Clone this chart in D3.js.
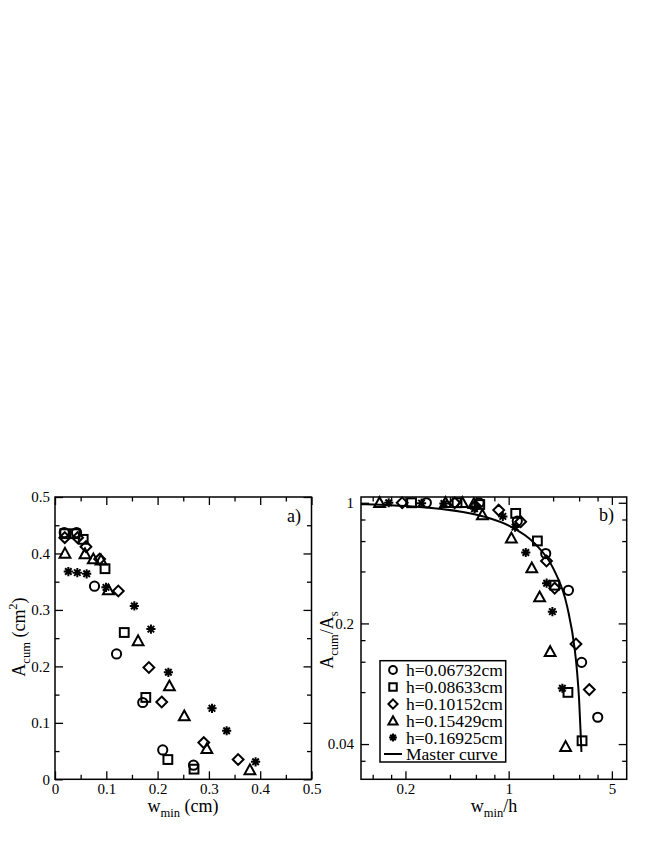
<!DOCTYPE html>
<html><head><meta charset="utf-8">
<script src="https://cdn.jsdelivr.net/npm/d3@7"></script>
<style>
body{margin:0;background:#fff}
svg{display:block}
text{font-family:"Liberation Serif","Times New Roman",serif;fill:#000}
</style>
</head><body>
<svg id="c" width="654" height="846"></svg>
<script>
// ---------- DATA ----------
const legendLabels = ["h=0.06732cm","h=0.08633cm","h=0.10152cm","h=0.15429cm","h=0.16925cm"];
const symbolTypes  = ["circle","square","diamond","triangle","star"];

// Panel a: w_min (cm) vs A_cum (cm^2)
const circA_w = [0.018, 0.042, 0.077, 0.120, 0.171, 0.210, 0.270];
const circA_A = [0.437, 0.437, 0.342, 0.222, 0.136, 0.052, 0.025];
const squA_w  = [0.019, 0.039, 0.055, 0.0975, 0.135, 0.177, 0.220, 0.271];
const squA_A  = [0.435, 0.435, 0.425, 0.373, 0.260, 0.145, 0.035, 0.018];
const diaA_w  = [0.019, 0.044, 0.0604, 0.087, 0.1234, 0.183, 0.208, 0.290, 0.357];
const diaA_A  = [0.428, 0.428, 0.412, 0.390, 0.3335, 0.198, 0.137, 0.065, 0.035];
const triA_w  = [0.0195, 0.0585, 0.0747, 0.0897, 0.104, 0.162, 0.223, 0.252, 0.296, 0.380];
const triA_A  = [0.400, 0.399, 0.390, 0.388, 0.335, 0.245, 0.165, 0.112, 0.054, 0.0165];
const starA_w = [0.026, 0.0435, 0.0617, 0.0994, 0.1546, 0.187, 0.221, 0.306, 0.3346, 0.391];
const starA_A = [0.368, 0.366, 0.364, 0.340, 0.307, 0.266, 0.1895, 0.1257, 0.086, 0.031];

// Panel b: w_min/h vs A_cum/A_s (log-log)
const circB_x = [0.277, 0.63, 1.144, 1.782, 2.54, 3.12, 4.01];
const circB_y = [1.0, 1.0, 0.783, 0.508, 0.311, 0.119, 0.0572];
const squB_x  = [0.220, 0.447, 0.637, 1.116, 1.565, 2.05, 2.52, 3.14];
const squB_y  = [1.0, 1.0, 0.977, 0.868, 0.601, 0.333, 0.0797, 0.0418];
const diaB_x  = [0.19, 0.431, 0.595, 0.856, 1.206, 1.803, 2.05, 2.857, 3.517];
const diaB_y  = [1.0, 1.0, 0.958, 0.907, 0.777, 0.46, 0.32, 0.152, 0.0827];
const triB_x  = [0.1336, 0.374, 0.486, 0.581, 0.664, 1.043, 1.434, 1.62, 1.91, 2.43];
const triB_y  = [1.0, 1.0, 1.0, 0.985, 0.849, 0.623, 0.418, 0.284, 0.137, 0.0386];
const starB_x = [0.154, 0.257, 0.3645, 0.587, 0.913, 1.105, 1.306, 1.808, 1.977, 2.31];
const starB_y = [1.0, 0.995, 0.99, 0.924, 0.834, 0.723, 0.515, 0.342, 0.234, 0.0842];
const masterB_x = [0.1, 0.15, 0.2, 0.3, 0.5, 0.7, 1.0, 1.5, 2.0, 2.5, 2.8, 2.9, 3.0, 3.07, 3.11];
const masterB_y = [0.982, 0.970, 0.959, 0.934, 0.882, 0.826, 0.738, 0.581, 0.418, 0.247, 0.142, 0.107, 0.072, 0.047, 0.036];

// Ticks
const aXMajor = [0, 0.1, 0.2, 0.3, 0.4, 0.5];
const aXLabels = ["0", "0.1", "0.2", "0.3", "0.4", "0.5"];
const aXMinor = [0.05, 0.15, 0.25, 0.35, 0.45];
const aYMajor = [0, 0.1, 0.2, 0.3, 0.4, 0.5];
const aYLabels = ["0", "0.1", "0.2", "0.3", "0.4", "0.5"];
const aYMinor = [0.05, 0.15, 0.25, 0.35, 0.45];
const bXMajor = [0.2, 1, 5];
const bXLabels = ["0.2", "1", "5"];
const bXMinor = [0.12, 0.16, 0.4, 0.6, 0.8, 2, 3, 4];
const bYMajor = [0.04, 0.2, 1];
const bYLabels = ["0.04", "0.2", "1"];
const bYMinor = [0.032, 0.08, 0.12, 0.16, 0.4, 0.6, 0.8];

// ---------- DRAW ----------
const svg = d3.select("#c");
svg.append("rect").attr("width", 654).attr("height", 846).attr("fill", "#fff");

function marker(g, type, x, y, k) {
  k = k || 1;
  const sw = 2;
  if (type === "circle") {
    g.append("circle").attr("cx", x).attr("cy", y).attr("r", 4.6 * k)
      .attr("fill", "none").attr("stroke", "#000").attr("stroke-width", sw);
  } else if (type === "square") {
    const s = 4.4 * k;
    g.append("rect").attr("x", x - s).attr("y", y - s).attr("width", 2 * s).attr("height", 2 * s)
      .attr("fill", "none").attr("stroke", "#000").attr("stroke-width", sw);
  } else if (type === "diamond") {
    const s = 5.4 * k;
    g.append("path").attr("d", `M${x},${y - s}L${x + s},${y}L${x},${y + s}L${x - s},${y}Z`)
      .attr("fill", "none").attr("stroke", "#000").attr("stroke-width", sw).attr("stroke-linejoin", "miter");
  } else if (type === "triangle") {
    const w = 5.4 * k, t = 5.6 * k, b = 4.2 * k;
    g.append("path").attr("d", `M${x},${y - t}L${x + w},${y + b}L${x - w},${y + b}Z`)
      .attr("fill", "none").attr("stroke", "#000").attr("stroke-width", sw).attr("stroke-linejoin", "miter");
  } else if (type === "star") {
    const s = 4.6 * k, d = s * 0.7071;
    const p = `M${x - s},${y}L${x + s},${y}M${x},${y - s}L${x},${y + s}M${x - d},${y - d}L${x + d},${y + d}M${x - d},${y + d}L${x + d},${y - d}`;
    g.append("path").attr("d", p).attr("stroke", "#000").attr("stroke-width", 2).attr("fill", "none");
  }
}

function frameAxes(xs, ys, xMaj, xLab, xMin, yMaj, yLab, yMin, yPad) {
  const [x0, x1] = xs.range();
  const [y0, y1] = ys.range();
  const g = svg.append("g");
  const style = sel => {
    sel.select(".domain").remove();
    sel.attr("font-size", 15).attr("font-family", "Liberation Serif, Times New Roman, serif");
    sel.selectAll("line").attr("stroke", "#000").attr("stroke-width", 1.3);
    sel.selectAll("text").attr("fill", "#000");
  };
  g.append("g").attr("transform", `translate(0,${y0})`)
    .call(d3.axisBottom(xs).tickValues(xMaj).tickSize(-8).tickPadding(4).tickFormat((d, i) => xLab[i])).call(style);
  g.append("g").attr("transform", `translate(0,${y0})`)
    .call(d3.axisBottom(xs).tickValues(xMin).tickSize(-4.5).tickFormat("")).call(style);
  g.append("g").attr("transform", `translate(0,${y1})`)
    .call(d3.axisTop(xs).tickValues(xMaj).tickSize(-8).tickFormat("")).call(style);
  g.append("g").attr("transform", `translate(0,${y1})`)
    .call(d3.axisTop(xs).tickValues(xMin).tickSize(-4.5).tickFormat("")).call(style);
  g.append("g").attr("transform", `translate(${x0},0)`)
    .call(d3.axisLeft(ys).tickValues(yMaj).tickSize(-8).tickPadding(yPad).tickFormat((d, i) => yLab[i])).call(style);
  g.append("g").attr("transform", `translate(${x0},0)`)
    .call(d3.axisLeft(ys).tickValues(yMin).tickSize(-4.5).tickFormat("")).call(style);
  g.append("g").attr("transform", `translate(${x1},0)`)
    .call(d3.axisRight(ys).tickValues(yMaj).tickSize(-8).tickFormat("")).call(style);
  g.append("g").attr("transform", `translate(${x1},0)`)
    .call(d3.axisRight(ys).tickValues(yMin).tickSize(-4.5).tickFormat("")).call(style);
  g.append("rect").attr("x", x0).attr("y", y1).attr("width", x1 - x0).attr("height", y0 - y1)
    .attr("fill", "none").attr("stroke", "#000").attr("stroke-width", 1.5);
}

// ----- Panel a -----
const ax = d3.scaleLinear().domain([0, 0.5]).range([55, 311.5]);
const ay = d3.scaleLinear().domain([0, 0.5]).range([779.3, 497]);
frameAxes(ax, ay, aXMajor, aXLabels, aXMinor, aYMajor, aYLabels, aYMinor, 5);

const seriesA = [
  {t: "circle", w: circA_w, a: circA_A},
  {t: "square", w: squA_w, a: squA_A},
  {t: "diamond", w: diaA_w, a: diaA_A},
  {t: "triangle", w: triA_w, a: triA_A},
  {t: "star", w: starA_w, a: starA_A}
];
const gA = svg.append("g");
seriesA.forEach(s => s.w.forEach((w, i) => marker(gA, s.t, ax(w), ay(s.a[i]))));

svg.append("text").attr("x", 287).attr("y", 522).attr("font-size", 18).text("a)");

const xtA = svg.append("text").attr("x", 183).attr("y", 812).attr("text-anchor", "middle").attr("font-size", 18);
xtA.append("tspan").text("w");
xtA.append("tspan").attr("dy", 5).attr("font-size", 12.5).text("min");
xtA.append("tspan").attr("dy", -5).text(" (cm)");

const ytA = svg.append("text").attr("transform", "translate(25,637) rotate(-90)").attr("text-anchor", "middle").attr("font-size", 18);
ytA.append("tspan").text("A");
ytA.append("tspan").attr("dy", 5).attr("font-size", 12.5).text("cum");
ytA.append("tspan").attr("dy", -5).text(" (cm");
ytA.append("tspan").attr("dy", -8).attr("font-size", 12.5).text("2");
ytA.append("tspan").attr("dy", 8).text(")");

// ----- Panel b -----
const bx = d3.scaleLog().domain([0.1, 6.3]).range([361, 626.7]);
const by = d3.scaleLog().domain([0.025, 1.08]).range([779.3, 497]);
frameAxes(bx, by, bXMajor, bXLabels, bXMinor, bYMajor, bYLabels, bYMinor, 7);

const seriesB = [
  {t: "circle", x: circB_x, y: circB_y},
  {t: "square", x: squB_x, y: squB_y},
  {t: "diamond", x: diaB_x, y: diaB_y},
  {t: "triangle", x: triB_x, y: triB_y},
  {t: "star", x: starB_x, y: starB_y}
];
const gB = svg.append("g");
const masterPts = masterB_x.map((x, i) => [x, masterB_y[i]]);
gB.append("path").datum(masterPts)
  .attr("d", d3.line().x(d => bx(d[0])).y(d => by(d[1])).curve(d3.curveMonotoneX))
  .attr("fill", "none").attr("stroke", "#000").attr("stroke-width", 2);
seriesB.forEach(s => s.x.forEach((x, i) => marker(gB, s.t, bx(x), by(s.y[i]))));

svg.append("text").attr("x", 599).attr("y", 521).attr("font-size", 18).text("b)");

const xtB = svg.append("text").attr("x", 494).attr("y", 812).attr("text-anchor", "middle").attr("font-size", 18);
xtB.append("tspan").text("w");
xtB.append("tspan").attr("dy", 5).attr("font-size", 12.5).text("min");
xtB.append("tspan").attr("dy", -5).text("/h");

const ytB = svg.append("text").attr("transform", "translate(333,640) rotate(-90)").attr("text-anchor", "middle").attr("font-size", 18);
ytB.append("tspan").text("A");
ytB.append("tspan").attr("dy", 5).attr("font-size", 12.5).text("cum");
ytB.append("tspan").attr("dy", -5).text("/A");
ytB.append("tspan").attr("dy", 5).attr("font-size", 12.5).text("s");

// Legend
const lg = svg.append("g");
lg.append("rect").attr("x", 380).attr("y", 660.7).attr("width", 125.7).attr("height", 101.3)
  .attr("fill", "#fff").attr("stroke", "#000").attr("stroke-width", 1.5);
const rowY = [670, 687, 704, 721, 737.5, 754];
symbolTypes.forEach((t, i) => {
  marker(lg, t, 393, rowY[i], 0.85);
  lg.append("text").attr("x", 406).attr("y", rowY[i] + 6).attr("font-size", 17.5).text(legendLabels[i]);
});
lg.append("line").attr("x1", 384).attr("x2", 402).attr("y1", rowY[5]).attr("y2", rowY[5])
  .attr("stroke", "#000").attr("stroke-width", 2);
lg.append("text").attr("x", 406).attr("y", rowY[5] + 6).attr("font-size", 17.5).text("Master curve");
</script>
</body></html>
